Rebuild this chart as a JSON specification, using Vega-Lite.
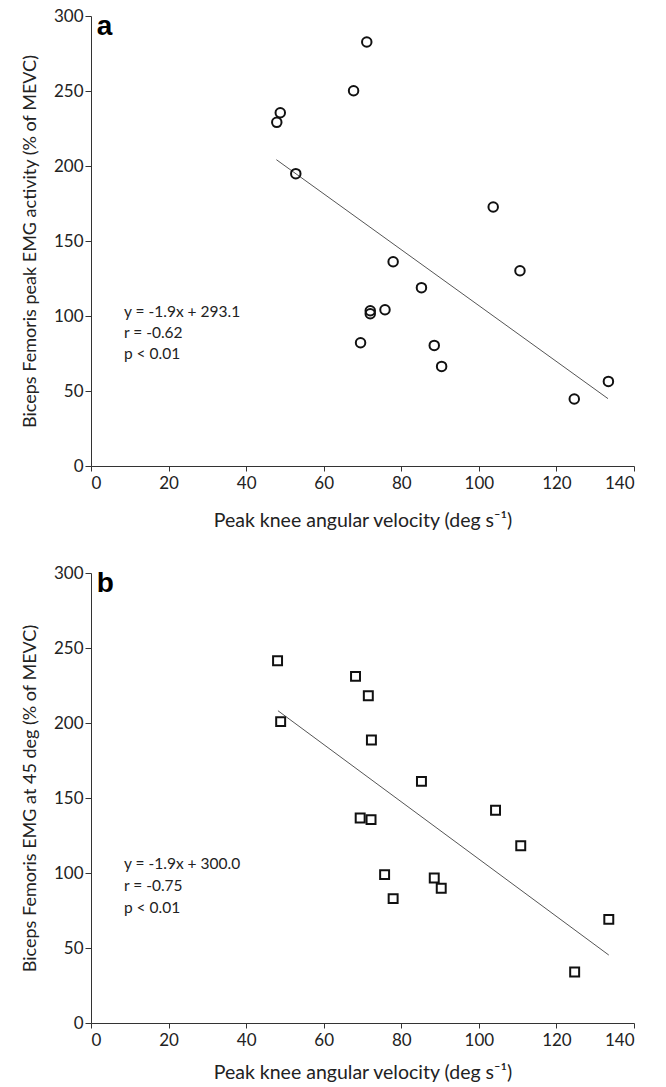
{
  "$schema": "https://vega.github.io/schema/vega-lite/v6.json",
  "autosize": {"type": "pad"},
  "padding": {"left": 21, "top": 7, "right": 10, "bottom": 5},
  "background": "white",
  "spacing": 107,
  "bounds": "flush",
  "datasets": {
    "pointsA": [
      {"v": 71.1, "emg": 282.7}, {"v": 67.7, "emg": 250.2}, {"v": 48.8, "emg": 235.5},
      {"v": 47.9, "emg": 229.1}, {"v": 52.8, "emg": 194.9}, {"v": 103.7, "emg": 172.7},
      {"v": 77.9, "emg": 136.2}, {"v": 110.6, "emg": 130.2}, {"v": 85.2, "emg": 118.9},
      {"v": 72.0, "emg": 103.5}, {"v": 72.0, "emg": 101.5}, {"v": 75.8, "emg": 104.2},
      {"v": 69.5, "emg": 82.2}, {"v": 88.5, "emg": 80.4}, {"v": 90.4, "emg": 66.4},
      {"v": 133.4, "emg": 56.4}, {"v": 124.6, "emg": 44.7}
    ],
    "lineA": [{"v": 47.8, "emg": 204.2}, {"v": 133.3, "emg": 44.9}],
    "pointsB": [
      {"v": 48.1, "emg": 241.5}, {"v": 68.2, "emg": 231.1}, {"v": 71.5, "emg": 218.2},
      {"v": 48.9, "emg": 200.9}, {"v": 72.3, "emg": 188.7}, {"v": 85.2, "emg": 161.1},
      {"v": 104.3, "emg": 141.8}, {"v": 69.4, "emg": 136.7}, {"v": 72.2, "emg": 135.6},
      {"v": 110.8, "emg": 118.2}, {"v": 75.7, "emg": 98.9}, {"v": 88.5, "emg": 96.7},
      {"v": 90.3, "emg": 89.8}, {"v": 77.9, "emg": 82.9}, {"v": 133.5, "emg": 69.1},
      {"v": 124.7, "emg": 34.0}
    ],
    "lineB": [{"v": 48.2, "emg": 208.2}, {"v": 133.5, "emg": 45.3}],
    "annA": [
      {"v": 8.5, "emg": 102.5, "t": "y = -1.9x + 293.1"},
      {"v": 8.5, "emg": 88.5, "t": "r = -0.62"},
      {"v": 8.5, "emg": 74.5, "t": "p < 0.01"}
    ],
    "annB": [
      {"v": 8.5, "emg": 106, "t": "y = -1.9x + 300.0"},
      {"v": 8.5, "emg": 91.5, "t": "r = -0.75"},
      {"v": 8.5, "emg": 77, "t": "p < 0.01"}
    ],
    "labA": [{"v": 1.5, "emg": 287.3, "t": "a"}],
    "labB": [{"v": 1.5, "emg": 287.3, "t": "b"}]
  },
  "vconcat": [
    {
      "width": 543,
      "height": 450,
      "encoding": {
        "x": {"field": "v", "type": "quantitative", "scale": {"domain": [0, 140], "nice": false},
          "axis": {"values": [0, 20, 40, 60, 80, 100, 120, 140], "title": "Peak knee angular velocity (deg s⁻¹)", "titleFontSize": 19.5, "tickSize": 5, "labelPadding": 4, "titlePadding": 20}},
        "y": {"field": "emg", "type": "quantitative", "scale": {"domain": [0, 300], "nice": false},
          "axis": {"values": [0, 50, 100, 150, 200, 250, 300], "title": "Biceps Femoris peak EMG activity (% of MEVC)", "tickSize": 6, "labelPadding": 2, "titlePadding": 14}}
      },
      "layer": [
        {"data": {"name": "lineA"}, "mark": {"type": "line", "color": "#555", "strokeWidth": 1}},
        {"data": {"name": "pointsA"}, "mark": {"type": "point", "shape": "circle", "filled": false, "color": "#111", "strokeWidth": 2, "size": 90, "opacity": 1}},
        {"data": {"name": "annA"}, "mark": {"type": "text", "align": "left", "baseline": "middle", "font": "Lato", "fontSize": 15.5, "color": "#222"}, "encoding": {"text": {"field": "t"}}},
        {"data": {"name": "labA"}, "mark": {"type": "text", "align": "left", "baseline": "alphabetic", "font": "Liberation Sans", "fontWeight": "bold", "fontSize": 28, "color": "#000"}, "encoding": {"text": {"field": "t"}}}
      ]
    },
    {
      "width": 543,
      "height": 450,
      "encoding": {
        "x": {"field": "v", "type": "quantitative", "scale": {"domain": [0, 140], "nice": false},
          "axis": {"values": [0, 20, 40, 60, 80, 100, 120, 140], "title": "Peak knee angular velocity (deg s⁻¹)", "titleFontSize": 19.5, "tickSize": 5, "labelPadding": 4, "titlePadding": 15}},
        "y": {"field": "emg", "type": "quantitative", "scale": {"domain": [0, 300], "nice": false},
          "axis": {"values": [0, 50, 100, 150, 200, 250, 300], "title": "Biceps Femoris EMG at 45 deg (% of MEVC)", "tickSize": 6, "labelPadding": 2, "titlePadding": 14}}
      },
      "layer": [
        {"data": {"name": "lineB"}, "mark": {"type": "line", "color": "#555", "strokeWidth": 1}},
        {"data": {"name": "pointsB"}, "mark": {"type": "point", "shape": "square", "filled": false, "color": "#111", "strokeWidth": 2, "size": 80, "opacity": 1}},
        {"data": {"name": "annB"}, "mark": {"type": "text", "align": "left", "baseline": "middle", "font": "Lato", "fontSize": 15.5, "color": "#222"}, "encoding": {"text": {"field": "t"}}},
        {"data": {"name": "labB"}, "mark": {"type": "text", "align": "left", "baseline": "alphabetic", "font": "Liberation Sans", "fontWeight": "bold", "fontSize": 28, "color": "#000"}, "encoding": {"text": {"field": "t"}}}
      ]
    }
  ],
  "config": {
    "view": {"stroke": null},
    "axis": {
      "grid": false,
      "domainColor": "#333",
      "tickColor": "#333",
      "labelFont": "Lato",
      "labelFontSize": 17,
      "labelColor": "#222",
      "titleFont": "Lato",
      "titleFontSize": 18,
      "titleFontWeight": "normal",
      "titleColor": "#222"
    }
  }
}
